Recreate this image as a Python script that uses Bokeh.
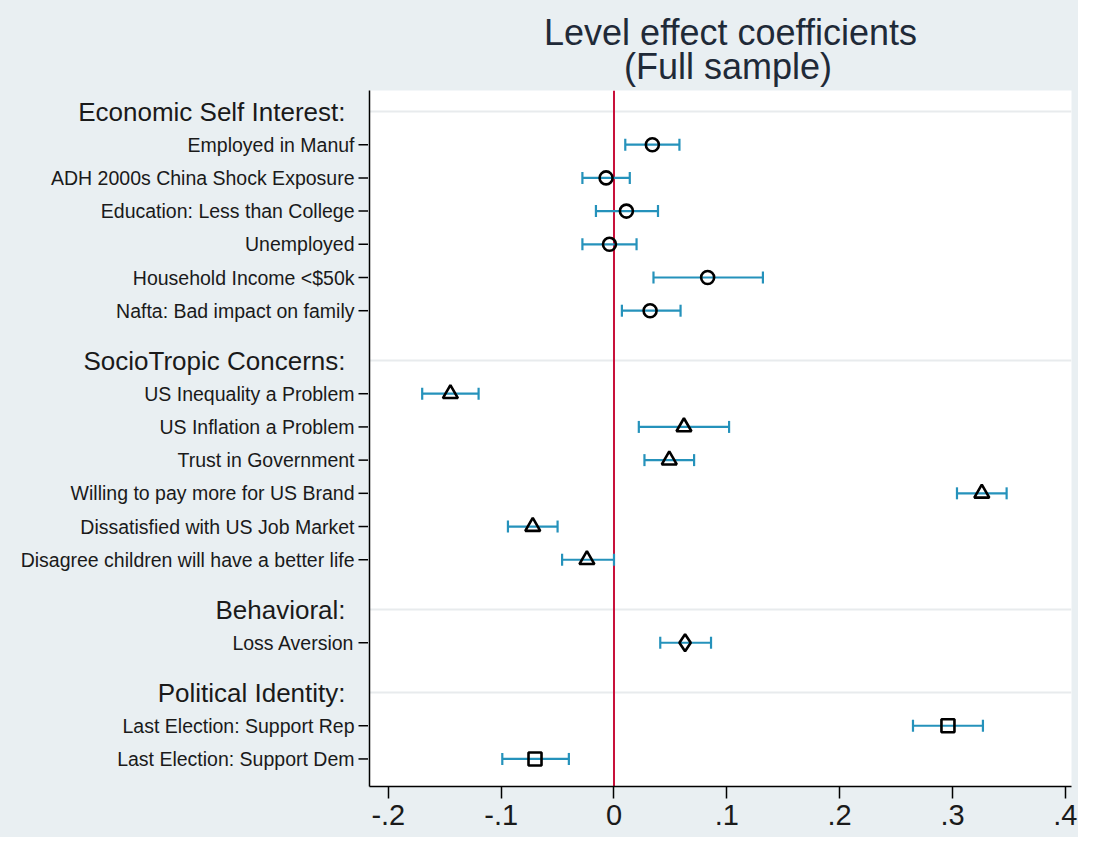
from bokeh.plotting import figure
from bokeh.layouts import row
from bokeh.models import (ColumnDataSource, Whisker, TeeHead, Span, Range1d,
                          FixedTicker, CustomJSTickFormatter, Title)
from bokeh.core.properties import value
from bokeh.embed import file_html
from bokeh.resources import INLINE

# ---------------- data ----------------
group_titles = ["Economic Self Interest:", "SocioTropic Concerns:", "Behavioral:", "Political Identity:"]

econ_labels = ["Employed in Manuf", "ADH 2000s China Shock Exposure", "Education: Less than College",
               "Unemployed", "Household Income <$50k", "Nafta: Bad impact on family"]
econ_coef = [0.034, -0.007, 0.011, -0.004, 0.083, 0.032]
econ_lo = [0.010, -0.028, -0.016, -0.028, 0.035, 0.007]
econ_hi = [0.058, 0.014, 0.039, 0.020, 0.132, 0.059]

socio_labels = ["US Inequality a Problem", "US Inflation a Problem", "Trust in Government",
                "Willing to pay more for US Brand", "Dissatisfied with US Job Market",
                "Disagree children will have a better life"]
socio_coef = [-0.145, 0.062, 0.049, 0.326, -0.072, -0.024]
socio_lo = [-0.170, 0.022, 0.027, 0.304, -0.094, -0.046]
socio_hi = [-0.120, 0.102, 0.071, 0.348, -0.050, 0.000]

behav_labels = ["Loss Aversion"]
behav_coef = [0.063]
behav_lo = [0.041]
behav_hi = [0.086]

pol_labels = ["Last Election: Support Rep", "Last Election: Support Dem"]
pol_coef = [0.296, -0.070]
pol_lo = [0.265, -0.099]
pol_hi = [0.327, -0.040]

x_ticks = [-0.2, -0.1, 0.0, 0.1, 0.2, 0.3, 0.4]

title_line1 = "Level effect coefficients"
title_line2 = "(Full sample)"

groups = [
    (group_titles[0], econ_labels, econ_coef, econ_lo, econ_hi),
    (group_titles[1], socio_labels, socio_coef, socio_lo, socio_hi),
    (group_titles[2], behav_labels, behav_coef, behav_lo, behav_hi),
    (group_titles[3], pol_labels, pol_coef, pol_lo, pol_hi),
]

# ---------------- styles ----------------
marker_styles = [("circle", 13), ("triangle", 15), ("diamond", 17), ("square", 13)]
BAR_COLOR = "#2592bb"
RED = "#c8103a"
BG = "#e9eff2"
FONT = "Liberation Sans"
TXT = "#1a1a1a"
TITLE_COLOR = "#1f2a38"

LABEL_W = 368          # width of the label panel (px); main plot frame starts right after
TICK_LEN = 10          # y tick length (px)
ITEM_GAP = 4           # gap between tick and item label (px)
HEADER_GAP = 23        # gap between axis and group header (px)
TOTAL_W, TOTAL_H = 1078, 837
TOP, BOTTOM = 90, 51

# row layout (half-row units; headers get an extra half-row gap before them)
header_pos = []
item_pos = []
item_names = []
pos = 0
for gi, (title, labels, *_rest) in enumerate(groups):
    if gi > 0:
        pos += 3
    header_pos.append(pos)
    for lab in labels:
        pos += 2
        item_pos.append(pos)
        item_names.append(lab)

y_range = Range1d(40.66, -1.265)
x_start, x_end = -0.2167, 0.4055

# ---------------- label panel (category labels + y ticks) ----------------
pl = figure(width=LABEL_W, height=TOTAL_H, output_backend="svg", toolbar_location=None,
            x_range=Range1d(0, LABEL_W), y_range=y_range,
            x_axis_location=None, y_axis_location=None,
            min_border_left=0, min_border_right=0, min_border_top=TOP, min_border_bottom=BOTTOM)
pl.border_fill_color = BG
pl.background_fill_color = BG
pl.outline_line_color = None
pl.grid.visible = False

n_items = len(item_pos)
tick_src = ColumnDataSource(dict(x0=[LABEL_W - TICK_LEN] * n_items, x1=[LABEL_W + 1] * n_items,
                                 y=item_pos))
pl.segment(x0="x0", y0="y", x1="x1", y1="y", source=tick_src, line_color="black", line_width=1.5)

item_src = ColumnDataSource(dict(x=[LABEL_W - TICK_LEN - ITEM_GAP] * n_items, y=item_pos,
                                 t=item_names))
pl.text(x="x", y="y", text="t", source=item_src, text_align="right", text_baseline="middle",
        text_font=value(FONT), text_font_size="19.5px", text_color=TXT)
hdr_src = ColumnDataSource(dict(x=[LABEL_W - HEADER_GAP] * len(header_pos), y=header_pos,
                                t=group_titles))
pl.text(x="x", y="y", text="t", source=hdr_src, text_align="right", text_baseline="middle",
        text_font=value(FONT), text_font_size="26px", text_color=TXT)

# ---------------- main plot ----------------
p = figure(width=TOTAL_W - LABEL_W, height=TOTAL_H, output_backend="svg", toolbar_location=None,
           x_range=Range1d(x_start, x_end), y_range=y_range,
           min_border_left=1, min_border_right=7, min_border_top=TOP, min_border_bottom=BOTTOM)

p.border_fill_color = BG
p.background_fill_color = "white"
p.outline_line_color = None

# title: two centred lines (no-break spaces keep the lines centred on each other)
nb = "\u00a0"
p.title = None
p.add_layout(Title(text=nb * 2 + title_line1 + "\n" + nb * 10 + title_line2, align="center",
                   text_font_size="36px", text_font=FONT, text_font_style="normal",
                   text_color=TITLE_COLOR, text_line_height=0.82, standoff=7), "above")

# grid
p.xgrid.visible = False
p.ygrid.ticker = FixedTicker(ticks=header_pos)
p.ygrid.grid_line_color = "#e8ebed"
p.ygrid.grid_line_width = 2

# x axis
p.xaxis.ticker = FixedTicker(ticks=x_ticks)
p.xaxis.formatter = CustomJSTickFormatter(code="""
    var s = tick.toFixed(1);
    if (s == "0.0" || s == "-0.0") { return "0"; }
    return s.replace("0.", ".");
""")
p.xaxis.major_label_text_font_size = "29px"
p.xaxis.major_label_text_font = FONT
p.xaxis.major_label_text_color = TXT
p.xaxis.major_tick_in = 0
p.xaxis.major_tick_out = 12
p.xaxis.minor_tick_line_color = None
p.xaxis.axis_line_width = 1.5
p.xaxis.major_tick_line_width = 1.5
p.xaxis.axis_line_color = "black"
p.xaxis.major_label_standoff = 6

# y axis: only the line (ticks and labels live in the label panel)
p.yaxis.ticker = FixedTicker(ticks=[])
p.yaxis.major_tick_in = 0
p.yaxis.major_tick_out = 0
p.yaxis.major_label_standoff = 0
p.yaxis.minor_tick_line_color = None
p.yaxis.axis_line_width = 1.5
p.yaxis.axis_line_color = "black"

# zero line
p.add_layout(Span(location=0, dimension="height", line_color=RED, line_width=2, level="underlay"))

# data
idx = 0
for gi, (title, labels, coef, lo, hi) in enumerate(groups):
    ys = item_pos[idx: idx + len(labels)]
    idx += len(labels)
    src = ColumnDataSource(dict(y=ys, coef=coef, lo=lo, hi=hi))
    w = Whisker(source=src, base="y", lower="lo", upper="hi", dimension="width",
                line_color=BAR_COLOR, line_width=2.2, level="underlay",
                upper_head=TeeHead(size=12, line_color=BAR_COLOR, line_width=2.2),
                lower_head=TeeHead(size=12, line_color=BAR_COLOR, line_width=2.2))
    p.add_layout(w)
    mk, sz = marker_styles[gi]
    p.scatter(x="coef", y="y", source=src, marker=mk, size=sz, line_color="black",
              line_width=2.6, fill_alpha=0)

layout = row(pl, p, spacing=0, styles={"background-color": BG})
open("out.html", "w").write(file_html(layout, INLINE))
